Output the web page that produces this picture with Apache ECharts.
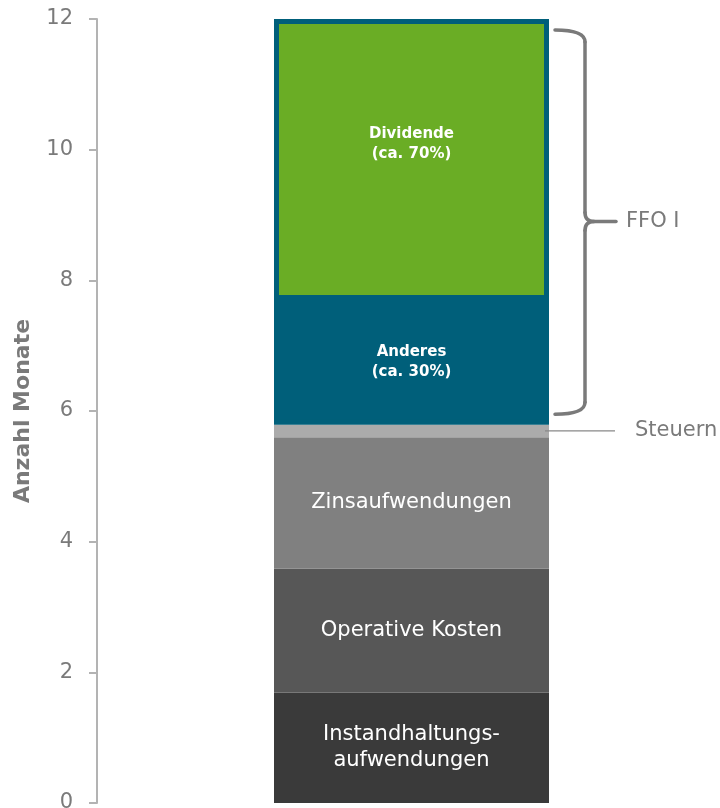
<!DOCTYPE html>
<html>
<head>
<meta charset="utf-8">
<script src="https://cdn.jsdelivr.net/npm/echarts@6/dist/echarts.min.js"></script>
<style>
html,body{margin:0;padding:0;background:#fff;}
#chart{width:720px;height:808px;}
</style>
</head>
<body>
<div id="chart"></div>
<script>
// ---- data ----
const categories = ['Monate'];
const segmentNames = ['Instandhaltungsaufwendungen', 'Operative Kosten', 'Zinsaufwendungen', 'Steuern', 'Anderes', 'Dividende'];
const segmentLabels = ['Instandhaltungs-\naufwendungen', 'Operative Kosten', 'Zinsaufwendungen', '', 'Anderes\n(ca. 30%)', 'Dividende\n(ca. 70%)'];
const segmentValues = [1.69, 1.90, 2.01, 0.19, 1.91, 4.30];
const yTicks = [0, 2, 4, 6, 8, 10, 12];
const braceRange = [5.95, 11.83];   // FFO I bracket (value range)
const braceTip = 8.90;
const braceText = 'FFO I';
const taxText = 'Steuern';
const axisTitle = 'Anzahl Monate';

// ---- styles ----
const FONT = 'DejaVu Sans';
const colors = ['#3a3a3a', '#575757', '#808080', '#ababab', '#005f7a', '#6aad25'];
const TEAL = '#005f7a';
const GRAY_TXT = '#7a7a7a';
const BAR_WIDTH = 275;

const chart = echarts.init(document.getElementById('chart'), null, {renderer: 'canvas'});

const series = segmentNames.map((name, i) => {
  const bold = i >= 4;
  const s = {
    name: name,
    type: 'bar',
    stack: 'total',
    barWidth: BAR_WIDTH,
    data: [segmentValues[i]],
    itemStyle: {color: colors[i]},
    label: {
      show: segmentLabels[i] !== '',
      position: 'inside',
      formatter: segmentLabels[i],
      color: '#ffffff',
      fontFamily: FONT,
      fontSize: bold ? 15 : 21,
      fontWeight: bold ? 'bold' : 'normal',
      lineHeight: bold ? 20 : 26
    },
    emphasis: {disabled: true},
    animation: false
  };
  if (i >= 4) {
    s.itemStyle.borderColor = TEAL;
    s.itemStyle.borderWidth = 5;
  }
  if (i === 5) {
    s.label.offset = [0, -15];
  }
  return s;
});

chart.setOption({
  animation: false,
  grid: {left: 97, top: 19, width: 629, bottom: 5, containLabel: false, outerBoundsMode: 'none'},
  xAxis: {type: 'category', data: categories, show: false},
  yAxis: {
    type: 'value',
    min: yTicks[0],
    max: yTicks[yTicks.length - 1],
    interval: yTicks[1] - yTicks[0],
    name: axisTitle,
    nameLocation: 'middle',
    nameGap: 63,
    nameTextStyle: {color: GRAY_TXT, fontFamily: FONT, fontSize: 22, fontWeight: 'bold'},
    axisLine: {show: true, lineStyle: {color: '#b3b3b3', width: 2}},
    axisTick: {show: true, length: 8, lineStyle: {color: '#b3b3b3', width: 2}},
    axisLabel: {color: GRAY_TXT, fontFamily: FONT, fontSize: 21, margin: 24},
    splitLine: {show: false}
  },
  series: series
});

function drawAnnotations() {
  const cx = chart.convertToPixel({xAxisIndex: 0}, categories[0]);
  const barRight = cx + BAR_WIDTH / 2;
  const yv = v => chart.convertToPixel({yAxisIndex: 0}, v);
  const yTop = yv(braceRange[1]);
  const yBot = yv(braceRange[0]);
  const yMid = yv(braceTip);
  const x0 = barRight + 6, x1 = barRight + 36, xt = barRight + 67;
  const bs = {stroke: '#7a7a7a', lineWidth: 3.5, fill: null, lineCap: 'round'};

  let acc = 0;
  for (let i = 0; i < 3; i++) acc += segmentValues[i];
  const taxMid = acc + segmentValues[3] / 2;
  const yTax = yv(taxMid);

  chart.setOption({
    graphic: [
      {type: 'bezierCurve', z: 100, shape: {x1: x0, y1: yTop, cpx1: x1, cpy1: yTop, x2: x1, y2: yTop + 12}, style: bs},
      {type: 'line', z: 100, shape: {x1: x1, y1: yTop + 12, x2: x1, y2: yMid - 9}, style: bs},
      {type: 'bezierCurve', z: 100, shape: {x1: x1, y1: yMid - 9, cpx1: x1, cpy1: yMid, x2: x1 + 9, y2: yMid}, style: bs},
      {type: 'line', z: 100, shape: {x1: x1 + 9, y1: yMid, x2: xt, y2: yMid}, style: bs},
      {type: 'bezierCurve', z: 100, shape: {x1: x1, y1: yMid + 9, cpx1: x1, cpy1: yMid, x2: x1 + 9, y2: yMid}, style: bs},
      {type: 'line', z: 100, shape: {x1: x1, y1: yMid + 9, x2: x1, y2: yBot - 12}, style: bs},
      {type: 'bezierCurve', z: 100, shape: {x1: x1, y1: yBot - 12, cpx1: x1, cpy1: yBot, x2: x0, y2: yBot}, style: bs},
      {type: 'text', z: 100, x: xt + 10, y: yMid,
       style: {text: braceText, fill: GRAY_TXT, font: '21px "' + FONT + '"', verticalAlign: 'middle', align: 'left'}},
      {type: 'line', z: 100, shape: {x1: barRight - 4, y1: yTax, x2: barRight + 66, y2: yTax},
       style: {stroke: '#888888', lineWidth: 1.3}},
      {type: 'text', z: 100, x: barRight + 86, y: yTax,
       style: {text: taxText, fill: GRAY_TXT, font: '21px "' + FONT + '"', verticalAlign: 'middle', align: 'left'}}
    ]
  });
}
drawAnnotations();
</script>
</body>
</html>
